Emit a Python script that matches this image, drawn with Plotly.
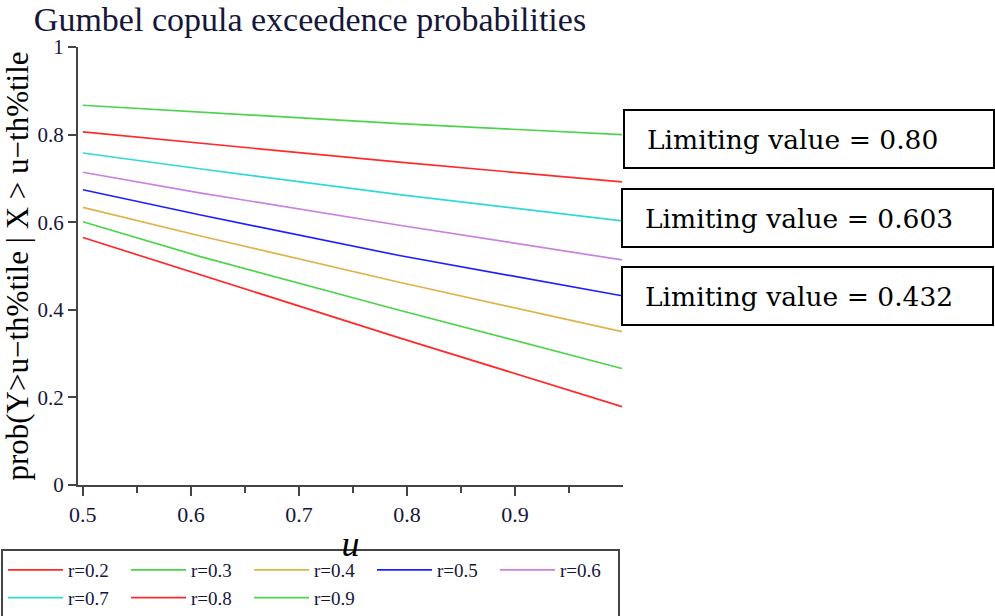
import plotly.graph_objects as go

# ---- data -----------------------------------------------------------------
u_vals = [0.5, 0.608, 0.793, 0.999]

r_labels = ["r=0.2", "r=0.3", "r=0.4", "r=0.5", "r=0.6", "r=0.7", "r=0.8", "r=0.9"]

p_r02 = [0.565, 0.480, 0.336, 0.179]
p_r03 = [0.601, 0.522, 0.399, 0.266]
p_r04 = [0.634, 0.569, 0.463, 0.350]
p_r05 = [0.674, 0.617, 0.524, 0.432]
p_r06 = [0.714, 0.667, 0.593, 0.514]
p_r07 = [0.758, 0.722, 0.663, 0.603]
p_r08 = [0.806, 0.781, 0.737, 0.692]
p_r09 = [0.867, 0.852, 0.825, 0.800]

series = [p_r02, p_r03, p_r04, p_r05, p_r06, p_r07, p_r08, p_r09]

# limiting values quoted in the boxes (r=0.9, r=0.7, r=0.5)
limit_labels = ["0.80", "0.603", "0.432"]

x_tick_vals = [0.5, 0.6, 0.7, 0.8, 0.9]
x_tick_text = ["0.5", "0.6", "0.7", "0.8", "0.9"]
x_minor_vals = [0.55, 0.65, 0.75, 0.85, 0.95]
y_tick_vals = [0, 0.2, 0.4, 0.6, 0.8, 1]
y_tick_text = ["0", "0.2", "0.4", "0.6", "0.8", "1"]

# ---- styling --------------------------------------------------------------
colors = ["#ff2a2a", "#4cd44c", "#e0b24a", "#2020ff",
          "#cc80e0", "#30d8d8", "#ff2a2a", "#4cd44c"]

W, H = 995, 616
ML, MR, MT, MB = 78, 372, 47, 131
PW, PH = W - ML - MR, H - MT - MB

SERIF = "Liberation Serif, Times New Roman, serif"
TICK_COLOR = "#16163a"


def px_x(px):
    return (px - ML) / PW


def px_y(py):
    return (H - MB - py) / PH


fig = go.Figure()
for name, vals, col in zip(r_labels, series, colors):
    fig.add_trace(go.Scatter(
        x=u_vals, y=vals, mode="lines", name=name,
        line=dict(color=col, width=1.7),
    ))

# boxed notes on the right
box_px = [(624, 994, 110, 168), (622, 993, 189, 247), (622, 993, 267, 325)]
for (x0, x1, y0, y1), lab in zip(box_px, limit_labels):
    fig.add_shape(type="rect", xref="paper", yref="paper",
                  x0=px_x(x0), x1=px_x(x1), y0=px_y(y1), y1=px_y(y0),
                  line=dict(color="black", width=2), fillcolor="white")
    fig.add_annotation(xref="paper", yref="paper",
                       x=px_x(x0 + 21), y=px_y((y0 + y1) / 2),
                       xanchor="left", yanchor="middle", showarrow=False,
                       text="Limiting value = " + lab,
                       font=dict(family="DejaVu Serif", size=26.5, color="black"))

fig.update_layout(
    width=W, height=H,
    margin=dict(l=ML, r=MR, t=MT, b=MB, autoexpand=False),
    paper_bgcolor="white", plot_bgcolor="white",
    title=dict(text="Gumbel copula exceedence probabilities",
               xref="container", yref="container",
               x=310 / W, xanchor="center", y=1 - 19.5 / H, yanchor="middle",
               font=dict(family=SERIF, size=34, color=TICK_COLOR)),
    showlegend=True,
    legend=dict(orientation="h", xref="paper", yref="paper",
                x=px_x(1), y=px_y(549), xanchor="left", yanchor="top",
                bordercolor="#444444", borderwidth=2, bgcolor="white",
                entrywidth=53, entrywidthmode="pixels", itemwidth=55,
                font=dict(family=SERIF, size=19, color=TICK_COLOR),
                tracegroupgap=0),
)

fig.update_xaxes(
    range=[0.4955, 1.0], showgrid=False, zeroline=False,
    showline=True, linecolor="#444444", linewidth=2,
    ticks="outside", ticklen=9, tickwidth=2, tickcolor="#444444",
    tickvals=x_tick_vals, ticktext=x_tick_text,
    tickfont=dict(family=SERIF, size=22, color=TICK_COLOR),
    minor=dict(tickvals=x_minor_vals, ticks="outside", ticklen=6,
               tickwidth=2, tickcolor="#444444", showgrid=False),
    title=dict(text="<i>u</i>", standoff=4,
               font=dict(family=SERIF, size=36, color="black")),
)
fig.update_yaxes(
    range=[0, 1], showgrid=False, zeroline=False,
    showline=True, linecolor="#444444", linewidth=2,
    ticks="outside", ticklen=8, tickwidth=2, tickcolor="#444444",
    tickvals=y_tick_vals, ticktext=y_tick_text,
    tickfont=dict(family=SERIF, size=21, color=TICK_COLOR),
    title=dict(text="prob(Y>u\u2212th%tile | X > u\u2212th%tile", standoff=6,
               font=dict(family=SERIF, size=31, color="black")),
)

fig.write_html("out.html")
